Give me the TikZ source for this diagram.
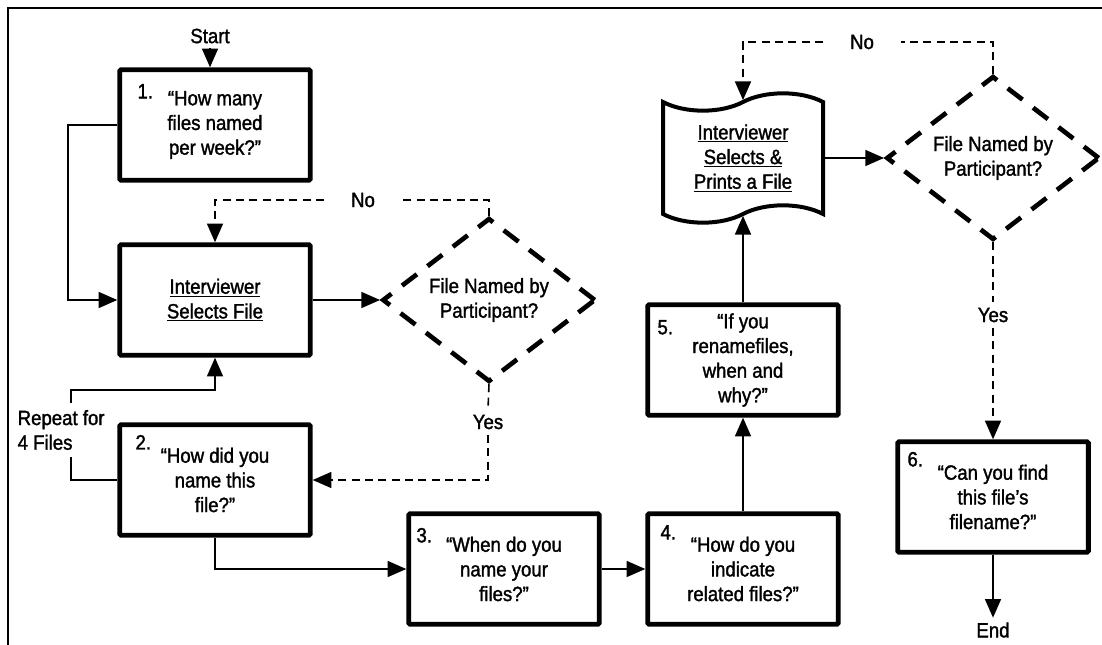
\documentclass[tikz,border=0pt]{standalone}
\usepackage{fontspec}
\setmainfont[FakeStretch=0.9,FakeBold=1.5]{Liberation Sans}
\usetikzlibrary{shapes.geometric,shapes.symbols,arrows.meta}

\begin{document}
\begin{tikzpicture}[
  x=0.75pt, y=-0.75pt,
  >={Triangle[length=14pt,width=12pt]},
  font=\fontsize{15.5}{18.5}\selectfont,
  box/.style={draw, line width=3.6pt, rounded corners=1pt, minimum width=143pt,
    minimum height=83pt, align=center, inner sep=2pt},
  decision/.style={draw, diamond, line width=3.5pt, dash pattern=on 14pt off 10pt,
    minimum width=160pt, minimum height=109pt, align=center, inner sep=0pt},
  printout/.style={draw, tape, line width=3pt, tape bend height=13pt,
    minimum width=120pt, minimum height=97pt, align=center},
  num/.style={inner sep=0pt},
  conn/.style={line width=1.2pt},
  dashcon/.style={conn, dash pattern=on 6pt off 4pt}
]
  \useasboundingbox (0,0) rectangle (1102,645);
  \draw[line width=1.5pt] (8,645) -- (8,8) -- (1102,8);

  \node (start) at (210,36) {Start};
  \node[box] (q1) at (215,125) {“How many\\files named\\per week?”};
  \node[box] (sel) at (215,300) {\underline{Interviewer}\\\underline{Selects File}};
  \node[decision] (d1) at (489,300) {File Named by\\Participant?};
  \node[box] (q2) at (215,480) {“How did you\\name this\\file?”};
  \node[box] (q3) at (504,569) {“When do you\\name your\\files?”};
  \node[box] (q4) at (743,569) {“How do you\\indicate\\related files?”};
  \node[box] (q5) at (743,360) {“If you\\renamefiles,\\when and\\why?”};
  \node[printout] (pr) at (743,158) {\underline{Interviewer}\\\underline{Selects \&}\\\underline{Prints a File}};
  \node[decision] (d2) at (993,158) {File Named by\\Participant?};
  \node[box] (q6) at (993,497) {“Can you find\\this file’s\\filename?”};
  \node (end) at (993,630) {End};

  % step numbers
  \node[num] (n1) at ([shift={(28,24)}]q1.north west) {1.};
  \node[num] (n2) at ([shift={(26,20)}]q2.north west) {2.};
  \node[num] (n3) at ([shift={(18,24)}]q3.north west) {3.};
  \node[num] (n4) at ([shift={(23,21)}]q4.north west) {4.};
  \node[num] (n5) at ([shift={(20,25)}]q5.north west) {5.};
  \node[num] (n6) at ([shift={(20,20)}]q6.north west) {6.};

  % branch labels
  \node[minimum width=58pt] (no1) at (363,200) {No};
  \node[minimum height=19pt] (yes1) at (488,422) {Yes};
  \node[minimum width=58pt] (no2) at (862,42) {No};
  \node[minimum height=19pt] (yes2) at (993,315) {Yes};
  \node[anchor=west, align=left] (rep) at (13,430) {Repeat for\\4 Files};
  \coordinate (repB) at (71,457);
  \coordinate (repT) at (71,403);

  \draw[conn,->] (start.south) -- (start.south |- q1.north);
  \draw[conn,->] (q1.west) -- ++(-49,0) |- (sel.west);
  \draw[conn,->] (sel.east) -- (d1.west);
  \draw[dashcon] (d1.north) |- (no1.east);
  \draw[dashcon,->] (no1.west) -| (sel.north);
  \draw[dashcon] (d1.south) -- (yes1.north);
  \draw[dashcon,->] (yes1.south) |- (q2.east);
  \draw[conn] (q2.west) -| (repB);
  \draw[conn,->] (repT) -- ++(0,-13) -| (sel.south);
  \draw[conn,->] (q2.south) |- (q3.west);
  \draw[conn,->] (q3.east) -- (q4.west);
  \draw[conn,->] (q4.north) -- (q5.south);
  \draw[conn,->] (q5.north) -- (pr.south);
  \draw[conn,->] (pr.east) -- (d2.west);
  \draw[dashcon] (d2.north) |- (no2.east);
  \draw[dashcon,->] (no2.west) -| (pr.north);
  \draw[dashcon] (d2.south) -- (yes2.north);
  \draw[dashcon,->] (yes2.south) -- (q6.north);
  \draw[conn,->] (q6.south) -- (end.north);
\end{tikzpicture}
\end{document}
